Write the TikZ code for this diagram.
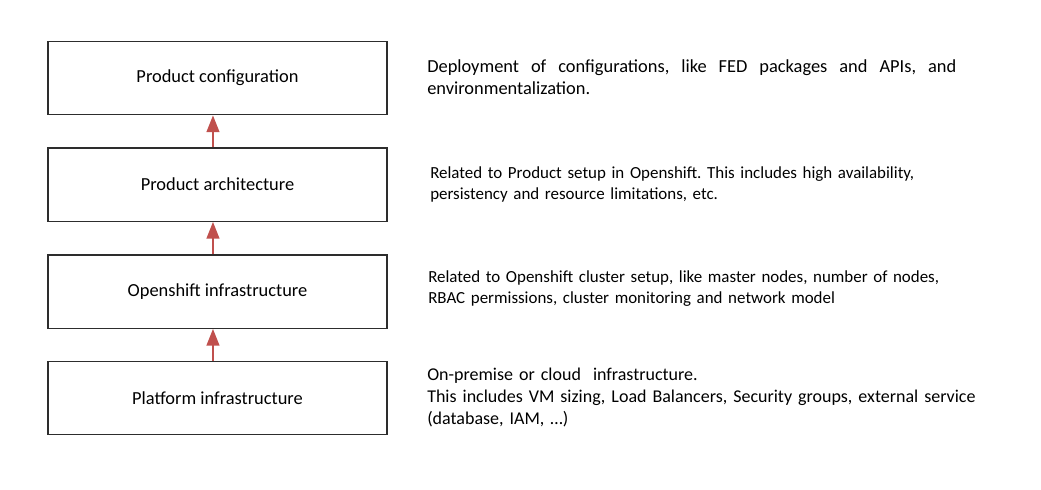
\documentclass[tikz,border=0pt]{standalone}
\usepackage{fontspec}
\setmainfont{Carlito}
\usepackage{tikz}
\usetikzlibrary{arrows.meta, positioning}
\definecolor{arrowred}{RGB}{192, 80, 77}
\definecolor{boxgray}{RGB}{45, 45, 45}
\frenchspacing

\begin{document}
\begin{tikzpicture}[x=0.75pt, y=-0.75pt,
  layer/.style={draw=boxgray, line width=1pt, minimum width=254.25pt, minimum height=55pt, inner sep=0pt, font=\fontsize{13.8}{16.4}\selectfont},
  note/.style={anchor=base west, inner sep=0pt, text width=430pt, align=left, font=\fontsize{12.7}{16.4}\selectfont},
  bignote/.style={note, font=\fontsize{13.5}{16.5}\selectfont},
  uparrow/.style={-{Triangle[length=12.5pt, width=9.5pt]}, line width=1.5pt, arrowred}]
  \useasboundingbox (0,0) rectangle (1041,489);

  % Layers
  \node[layer] (conf) at (217.5, 78) {Product configuration};
  \node[layer] (arch) at (217.5, 184.5) {Product architecture};
  \node[layer] (oshift) at (217.5, 291.5) {Openshift infrastructure};
  \node[layer] (platform) at (217.5, 398) {Platform infrastructure};

  % Arrows
  \draw[uparrow] ([xshift=-3.4pt]arch.north) -- ([xshift=-3.4pt]conf.south);
  \draw[uparrow] ([xshift=-3.4pt]oshift.north) -- ([xshift=-3.4pt]arch.south);
  \draw[uparrow] ([xshift=-3.4pt]platform.north) -- ([xshift=-3.4pt]oshift.south);

  % Notes
  \node[bignote, font=\fontsize{13.8}{16.3}\selectfont, text width=396.75pt, align=justify] (confnote) at (427, 72.3) {Deployment of configurations, like FED packages and APIs, and \mbox{environmentalization.}};
  \node[note] (archnote) at (430, 178) {Related to Product setup in Openshift. This includes high availability,\\ persistency and resource limitations, etc.};
  \node[note] (oshiftnote) at (428, 282) {Related to Openshift cluster setup, like master nodes, number of nodes,\\ RBAC permissions, cluster monitoring and network model};
  \node[bignote] (platformnote) at (427, 380) {On-premise or cloud\ \ infrastructure.\\ This includes VM sizing, Load Balancers, Security groups, external service\\ (database, IAM, \dots)};
\end{tikzpicture}
\end{document}
